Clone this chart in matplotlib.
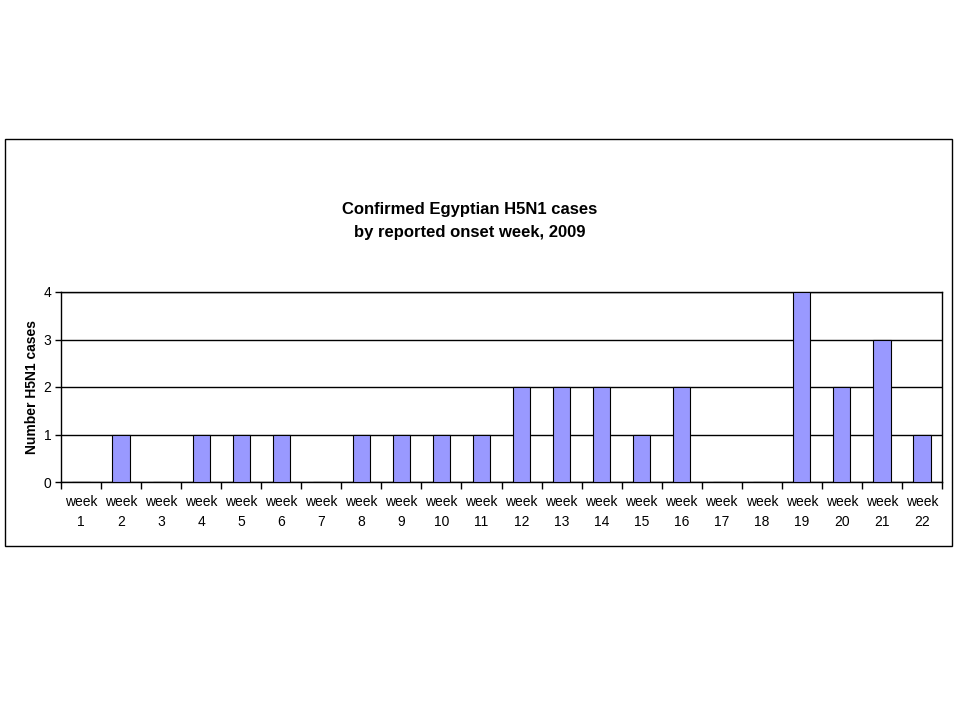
import matplotlib
matplotlib.use("Agg")
import matplotlib.pyplot as plt
from matplotlib.patches import Rectangle
import numpy as np

weeks = [f"week\n{i}" for i in range(1, 23)]
cases = [0, 1, 0, 1, 1, 1, 0, 1, 1, 1, 1, 2, 2, 2, 1, 2, 0, 0, 4, 2, 3, 1]
yticks = [0, 1, 2, 3, 4]

plt.rcParams['font.family'] = ['Liberation Sans', 'DejaVu Sans']

fig = plt.figure(figsize=(9.6, 7.2), dpi=100)
fig.patch.set_facecolor('white')

# outer chart box
fig.patches.append(Rectangle((5/960, 1-546/720), 947/960, 407/720,
                             transform=fig.transFigure, fill=False,
                             edgecolor='black', linewidth=1.0))

ax = fig.add_axes([61/960, 1-482/720, 881/960, 190/720])
x = np.arange(len(weeks))
ax.set_axisbelow(True)
ax.yaxis.grid(True, color='black', linewidth=1.0)
ax.bar(x, cases, width=0.43, color='#9999FF', edgecolor='black', linewidth=0.8, zorder=3)

ax.set_xlim(-0.5, len(weeks) - 0.5)
ax.set_ylim(0, 4)
ax.set_yticks(yticks)
ax.set_yticklabels([str(v) for v in yticks], fontsize=10)
ax.set_xticks(x)
ax.set_xticklabels(weeks, fontsize=10, linespacing=1.55)
ax.set_xticks(np.arange(-0.5, len(weeks), 1.0), minor=True)
ax.tick_params(axis='x', which='major', length=0, pad=9)
ax.tick_params(axis='x', which='minor', length=5, direction='out', width=1.0)
ax.tick_params(axis='y', length=4, direction='out', width=1.0, pad=3)
for s in ax.spines.values():
    s.set_color('black')
    s.set_linewidth(1.0)

ax.set_ylabel('Number H5N1 cases', fontsize=10, fontweight='bold', labelpad=3)

fig.text(470/960, 1-221/720, 'Confirmed Egyptian H5N1 cases\nby reported onset week, 2009',
         ha='center', va='center', fontsize=12, fontweight='bold', linespacing=1.6)

fig.savefig('out.png', dpi=100, facecolor='white')
